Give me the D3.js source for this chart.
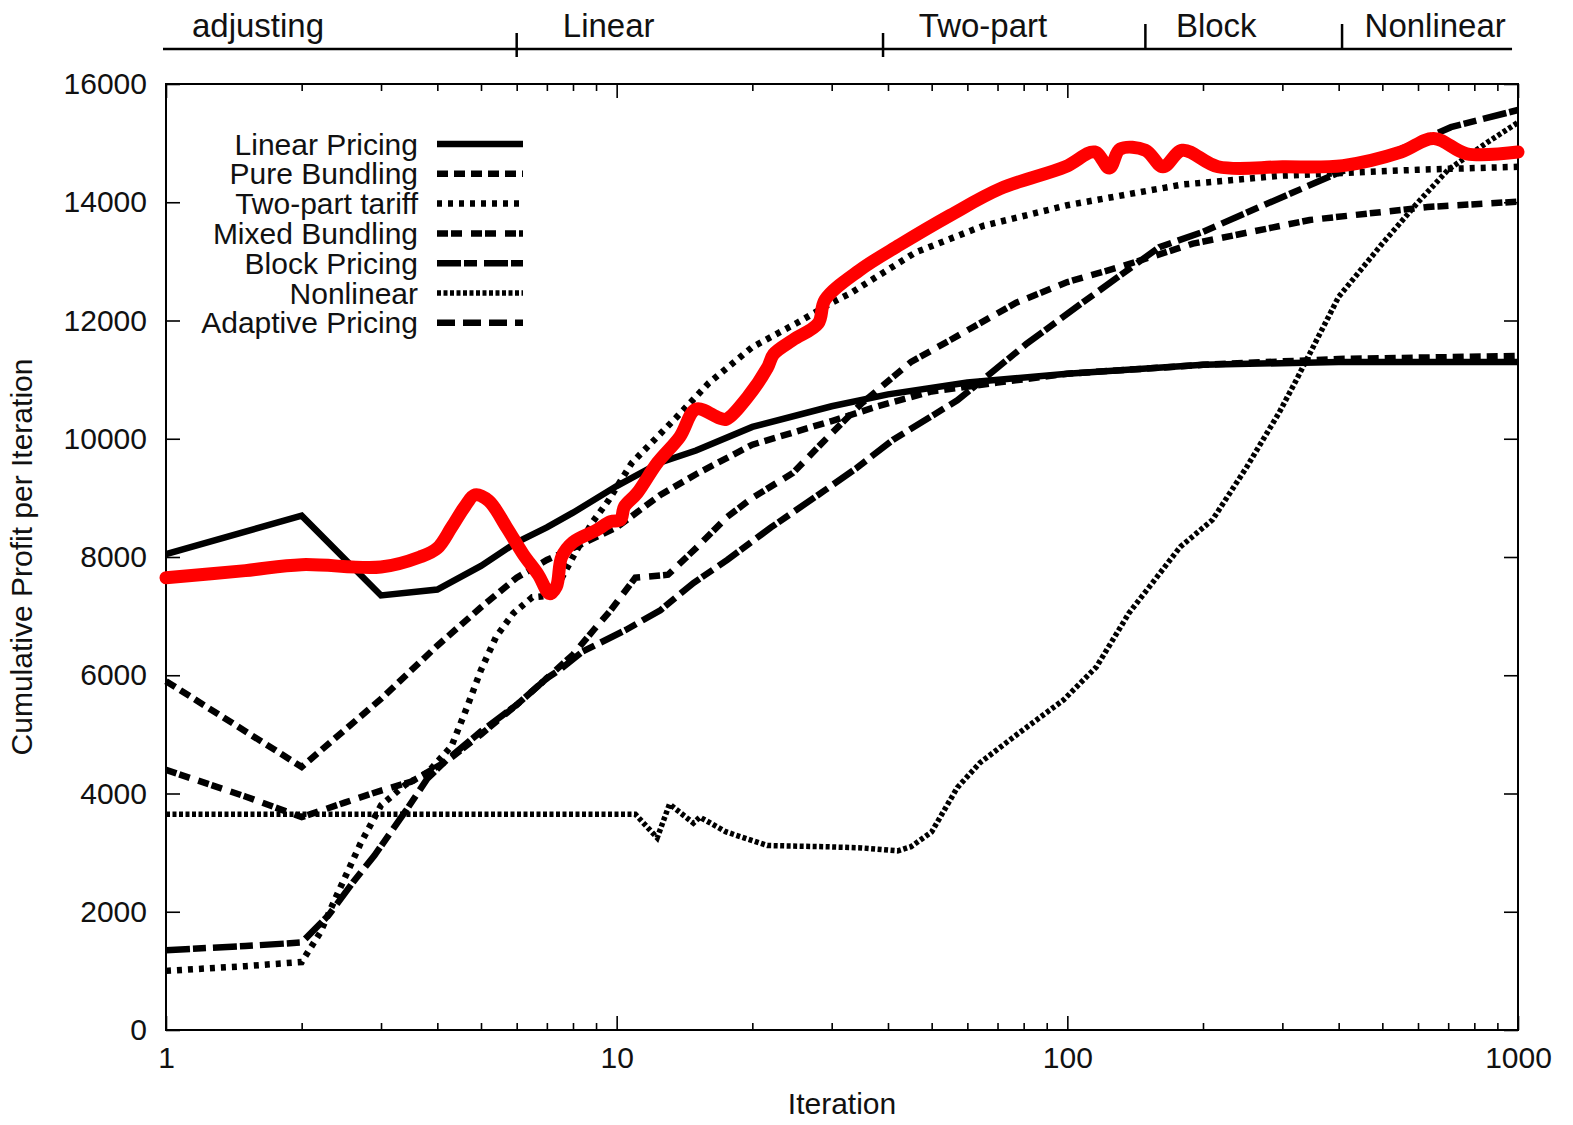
<!DOCTYPE html>
<html>
<head>
<meta charset="utf-8">
<script src="https://cdn.jsdelivr.net/npm/d3@7"></script>
<style>
  html, body { margin: 0; padding: 0; background: #fff; }
  svg { display: block; font-family: "Liberation Sans", Arial, sans-serif; }
</style>
</head>
<body>
<div id="chart"></div>
<script>
// iteration / profit pairs
const linearPricing = [[1, 8050], [2, 8700], [3, 7350], [4, 7450], [5, 7850], [6, 8250], [7, 8500], [8, 8750], [10, 9200], [12.5, 9600], [15, 9800], [20, 10200], [30, 10550], [40, 10750], [60, 10950], [100, 11100], [200, 11250], [400, 11300], [1000, 11300]];
const pureBundling = [[1, 5900], [2, 4450], [3, 5600], [4, 6500], [5, 7150], [6, 7650], [7, 7950], [8, 8150], [10, 8500], [12.5, 9050], [15, 9400], [20, 9900], [30, 10300], [38, 10550], [50, 10800], [70, 10950], [100, 11100], [200, 11250], [400, 11350], [1000, 11400]];
const twoPartTariff = [[1, 1000], [1.5, 1080], [2, 1150], [2.2, 1650], [2.4, 2300], [2.7, 3150], [3, 3800], [3.4, 4150], [3.8, 4350], [4.3, 4800], [4.65, 5450], [5, 6090], [5.4, 6650], [5.9, 7050], [6.5, 7320], [7.2, 7350], [8, 8000], [8.8, 8570], [9.6, 8960], [10.8, 9590], [13.6, 10370], [16, 10940], [20, 11550], [25, 11950], [30, 12300], [33, 12460], [46, 13150], [65, 13600], [100, 13950], [180, 14300], [300, 14450], [600, 14550], [1000, 14600]];
const mixedBundling = [[1, 4400], [1.5, 3950], [2, 3600], [2.5, 3850], [3, 4050], [3.5, 4200], [4.2, 4550], [5, 5000], [6, 5500], [7, 5950], [8, 6350], [8.9, 6770], [9.7, 7100], [11, 7650], [13, 7700], [15, 8150], [17.6, 8680], [20, 9000], [24.6, 9420], [29, 9980], [35, 10600], [45, 11300], [55, 11670], [77, 12300], [100, 12650], [130, 12900], [190, 13300], [345, 13700], [630, 13920], [1000, 14010]];
const blockPricing = [[1, 1350], [1.5, 1420], [2, 1480], [2.3, 1950], [2.6, 2500], [2.9, 2950], [3.4, 3700], [3.8, 4250], [4.2, 4570], [5, 5050], [6, 5500], [7, 5950], [7.5, 6100], [8.4, 6400], [10.5, 6770], [12.5, 7100], [14.8, 7560], [17.6, 7950], [22, 8500], [29, 9130], [34, 9500], [41, 9980], [57, 10650], [65, 11000], [81, 11600], [108, 12300], [160, 13240], [200, 13500], [267, 13920], [400, 14500], [550, 14900], [710, 15270], [1000, 15560]];
const nonlinear = [[1, 3650], [11, 3650], [12.3, 3250], [13.1, 3820], [14.8, 3500], [15.3, 3600], [17.5, 3350], [21.6, 3120], [29, 3100], [35, 3080], [42, 3030], [45, 3100], [50, 3350], [57, 4100], [64, 4520], [78, 5020], [98, 5580], [116, 6140], [137, 7050], [178, 8170], [210, 8630], [250, 9520], [295, 10440], [322, 10990], [400, 12400], [500, 13300], [600, 14000], [700, 14550], [850, 15000], [1000, 15350]];
const adaptivePricing = [[1, 7650], [1.5, 7770], [2, 7870], [3, 7830], [3.66, 8000], [4, 8150], [4.3, 8500], [4.6, 8850], [4.85, 9050], [5.2, 8950], [5.7, 8500], [6.2, 8050], [6.7, 7700], [7.1, 7380], [7.35, 7500], [7.55, 8000], [8, 8250], [9, 8450], [9.7, 8600], [10.2, 8630], [10.4, 8850], [11.1, 9080], [12.3, 9590], [13.8, 10030], [15, 10500], [16.9, 10350], [17.5, 10330], [19.5, 10700], [21.6, 11200], [22.3, 11430], [24.6, 11670], [28, 11950], [29, 12350], [34.6, 12850], [42.5, 13280], [55, 13780], [71, 14230], [99, 14600], [115, 14850], [124, 14580], [131, 14900], [149, 14880], [163, 14600], [180, 14880], [216, 14600], [300, 14600], [409, 14620], [550, 14850], [650, 15080], [770, 14820], [1000, 14850]];

const seriesNames = ["Linear Pricing", "Pure Bundling", "Two-part tariff", "Mixed Bundling", "Block Pricing", "Nonlinear", "Adaptive Pricing"];

const yTicks = [0, 2000, 4000, 6000, 8000, 10000, 12000, 14000, 16000];
const xMajorTicks = [1, 10, 100, 1000];
const xMinorTicks = [2, 3, 4, 5, 6, 7, 8, 9, 20, 30, 40, 50, 60, 70, 80, 90, 200, 300, 400, 500, 600, 700, 800, 900];

// phase annotation above the plot
const phaseLabels = ["adjusting", "Linear", "Two-part", "Block", "Nonlinear"];
const phaseCenters = [1.6, 9.6, 65, 214, 655];
const phaseBreaks = [6, 39, 149, 407];

const width = 1573;
const height = 1125;
const marginLeft = 166, marginRight = 1518, marginTop = 84, marginBottom = 1030;

const x = d3.scaleLog().domain([1, 1000]).range([marginLeft, marginRight]);
const y = d3.scaleLinear().domain([0, 16000]).range([marginBottom, marginTop]);

const svg = d3.select("#chart")
    .append("svg")
    .attr("width", width)
    .attr("height", height)
    .attr("viewBox", [0, 0, width, height]);

// axes, ticks pointing inward like gnuplot
function styleAxis(g) {
    g.select(".domain").remove();
    g.selectAll(".tick line").attr("stroke", "#000").attr("stroke-width", 1.6);
    g.selectAll("text").attr("font-size", 30).attr("fill", "#111");
}

svg.append("g")
    .attr("transform", `translate(${marginLeft},0)`)
    .call(d3.axisLeft(y).tickValues(yTicks).tickSize(-14).tickPadding(19).tickFormat(d3.format("d")))
    .call(styleAxis);

svg.append("g")
    .attr("transform", `translate(${marginRight},0)`)
    .call(d3.axisRight(y).tickValues(yTicks).tickSize(-14).tickFormat(""))
    .call(styleAxis);

svg.append("g")
    .attr("transform", `translate(0,${marginBottom})`)
    .call(d3.axisBottom(x).tickValues(xMajorTicks).tickSize(-14).tickPadding(17).tickFormat(d3.format("d")))
    .call(styleAxis);

svg.append("g")
    .attr("transform", `translate(0,${marginBottom})`)
    .call(d3.axisBottom(x).tickValues(xMinorTicks).tickSize(-7).tickFormat(""))
    .call(styleAxis);

svg.append("g")
    .attr("transform", `translate(0,${marginTop})`)
    .call(d3.axisTop(x).tickValues(xMajorTicks).tickSize(-14).tickFormat(""))
    .call(styleAxis);

svg.append("g")
    .attr("transform", `translate(0,${marginTop})`)
    .call(d3.axisTop(x).tickValues(xMinorTicks).tickSize(-7).tickFormat(""))
    .call(styleAxis);

svg.append("rect")
    .attr("x", marginLeft)
    .attr("y", marginTop)
    .attr("width", marginRight - marginLeft)
    .attr("height", marginBottom - marginTop)
    .attr("fill", "none")
    .attr("stroke", "#000")
    .attr("stroke-width", 2);

svg.append("text")
    .attr("x", (marginLeft + marginRight) / 2)
    .attr("y", 1114)
    .attr("text-anchor", "middle")
    .attr("font-size", 30)
    .attr("fill", "#111")
    .text("Iteration");

svg.append("text")
    .attr("transform", `translate(32,557) rotate(-90)`)
    .attr("text-anchor", "middle")
    .attr("font-size", 30)
    .attr("fill", "#111")
    .text("Cumulative Profit per Iteration");

// lines
const styles = [
    { data: linearPricing, dash: null, w: 6.5 },
    { data: pureBundling, dash: "11 6", w: 6.5 },
    { data: twoPartTariff, dash: "5 6", w: 6.5 },
    { data: mixedBundling, dash: "11 3 11 9", w: 6.5 },
    { data: blockPricing, dash: "24 3 13 7", w: 6.5 },
    { data: nonlinear, dash: "4 2.5", w: 5.5 },
    { data: adaptivePricing, dash: "18 8", w: 6.5 }
];

const line = d3.line()
    .x((d) => x(d[0]))
    .y((d) => y(d[1]));

const plot = svg.append("g");

styles.forEach((s) => {
    plot.append("path")
        .datum(s.data)
        .attr("fill", "none")
        .attr("stroke", "#000")
        .attr("stroke-width", s.w)
        .attr("stroke-dasharray", s.dash)
        .attr("d", line);
});

// highlighted adaptive run in red
plot.append("path")
    .datum(adaptivePricing)
    .attr("fill", "none")
    .attr("stroke", "#ff0000")
    .attr("stroke-width", 13)
    .attr("stroke-linejoin", "round")
    .attr("stroke-linecap", "round")
    .attr("d", d3.line().x((d) => x(d[0])).y((d) => y(d[1])).curve(d3.curveCatmullRom.alpha(0.5)));

// legend
const legend = svg.append("g");
seriesNames.forEach((name, i) => {
    const ly = 144 + i * 29.8;
    legend.append("text")
        .attr("x", 418)
        .attr("y", ly)
        .attr("dy", "0.35em")
        .attr("text-anchor", "end")
        .attr("font-size", 30)
        .attr("fill", "#111")
        .text(name);
    legend.append("line")
        .attr("x1", 437)
        .attr("x2", 523)
        .attr("y1", ly)
        .attr("y2", ly)
        .attr("stroke", "#000")
        .attr("stroke-width", styles[i].w)
        .attr("stroke-dasharray", styles[i].dash);
});

// phase annotation
const phase = svg.append("g");
phase.append("line")
    .attr("x1", x(1) - 3)
    .attr("x2", x(970))
    .attr("y1", 49)
    .attr("y2", 49)
    .attr("stroke", "#000")
    .attr("stroke-width", 2.5);

phase.selectAll(".phase-tick")
    .data(phaseBreaks)
    .enter()
    .append("line")
    .attr("class", "phase-tick")
    .attr("x1", (d) => x(d))
    .attr("x2", (d) => x(d))
    .attr("y1", (d, i) => (i < 2 ? 33 : 24))
    .attr("y2", (d, i) => (i < 2 ? 57 : 49))
    .attr("stroke", "#000")
    .attr("stroke-width", 2.5);

phase.selectAll(".phase-label")
    .data(phaseLabels)
    .enter()
    .append("text")
    .attr("class", "phase-label")
    .attr("x", (d, i) => x(phaseCenters[i]))
    .attr("y", 37)
    .attr("text-anchor", "middle")
    .attr("font-size", 33)
    .attr("fill", "#111")
    .text((d) => d);
</script>
</body>
</html>
